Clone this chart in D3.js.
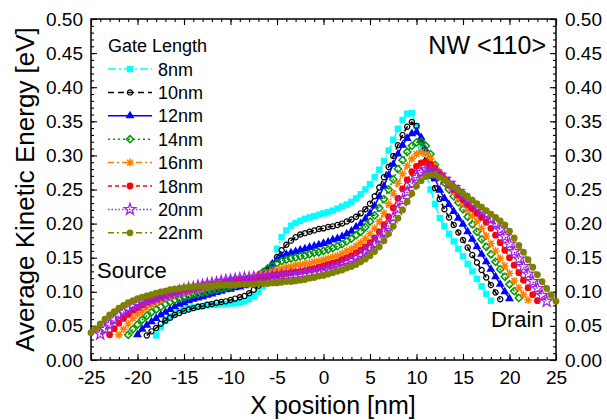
<!DOCTYPE html>
<html>
<head>
<meta charset="utf-8">
<script src="https://cdn.jsdelivr.net/npm/d3@7"></script>
<style>
  body { margin: 0; background: #fff; }
  svg { display: block; }
  text { font-family: "Liberation Sans", Arial, sans-serif; fill: #000; }
</style>
</head>
<body>
<svg id="chart" width="607" height="420"></svg>
<script>
// Gate lengths (nm) and the half span of each simulated wire (nm)
const gateLengths = [8, 10, 12, 14, 16, 18, 20, 22];
const halfSpans   = [18, 19, 20, 21, 22, 23, 24, 25];
const sampleStep  = 0.5; // nm between samples along the wire

const xTickValues = [-25, -20, -15, -10, -5, 0, 5, 10, 15, 20, 25];
const yTickValues = [0.00, 0.05, 0.10, 0.15, 0.20, 0.25, 0.30, 0.35, 0.40, 0.45, 0.50];

// Average kinetic energy [eV], sampled from -halfSpan to +halfSpan
const ke8nm = [
  0.036,0.048,0.057,0.063,0.068,0.072,0.074,0.076,0.077,0.078,
  0.079,0.080,0.081,0.081,0.082,0.082,0.083,0.083,0.084,0.086,
  0.089,0.094,0.100,0.108,0.120,0.140,0.163,0.180,0.190,0.197,
  0.201,0.204,0.207,0.209,0.211,0.213,0.215,0.217,0.219,0.222,
  0.225,0.228,0.232,0.237,0.243,0.250,0.258,0.268,0.279,0.292,
  0.307,0.323,0.339,0.352,0.361,0.362,0.343,0.310,0.275,0.250,
  0.229,0.208,0.196,0.185,0.174,0.163,0.152,0.141,0.130,0.119,
  0.108,0.097,0.087];
const ke10nm = [
  0.036,0.042,0.047,0.053,0.058,0.062,0.066,0.069,0.072,0.074,
  0.076,0.078,0.079,0.081,0.082,0.084,0.085,0.086,0.088,0.090,
  0.092,0.094,0.098,0.103,0.109,0.117,0.127,0.139,0.151,0.161,
  0.169,0.175,0.180,0.184,0.186,0.188,0.190,0.192,0.193,0.195,
  0.196,0.198,0.200,0.203,0.206,0.210,0.215,0.221,0.229,0.240,
  0.253,0.268,0.283,0.299,0.315,0.330,0.342,0.349,0.343,0.320,
  0.292,0.270,0.252,0.236,0.221,0.209,0.198,0.187,0.176,0.165,
  0.154,0.143,0.132,0.121,0.110,0.099,0.089];
const ke12nm = [
  0.037,0.045,0.051,0.056,0.061,0.066,0.070,0.074,0.078,0.082,
  0.084,0.087,0.089,0.091,0.093,0.095,0.097,0.099,0.101,0.103,
  0.104,0.106,0.107,0.109,0.111,0.114,0.119,0.126,0.134,0.141,
  0.147,0.152,0.155,0.157,0.159,0.161,0.163,0.165,0.167,0.169,
  0.171,0.173,0.176,0.178,0.181,0.185,0.189,0.195,0.200,0.207,
  0.215,0.226,0.240,0.255,0.271,0.287,0.302,0.315,0.325,0.332,
  0.334,0.326,0.307,0.286,0.266,0.249,0.237,0.228,0.218,0.208,
  0.199,0.188,0.177,0.166,0.155,0.144,0.133,0.122,0.111,0.100,
  0.090];
const ke14nm = [
  0.037,0.045,0.052,0.059,0.065,0.070,0.074,0.078,0.082,0.085,
  0.088,0.090,0.092,0.094,0.096,0.097,0.099,0.100,0.102,0.103,
  0.105,0.106,0.108,0.110,0.112,0.114,0.117,0.120,0.124,0.129,
  0.134,0.138,0.142,0.145,0.147,0.149,0.150,0.152,0.153,0.155,
  0.157,0.158,0.160,0.162,0.164,0.167,0.170,0.174,0.178,0.183,
  0.188,0.195,0.203,0.212,0.223,0.236,0.250,0.265,0.280,0.293,
  0.305,0.314,0.319,0.320,0.314,0.302,0.286,0.272,0.260,0.250,
  0.240,0.231,0.221,0.210,0.199,0.188,0.177,0.166,0.155,0.144,
  0.133,0.122,0.111,0.101,0.091];
const ke16nm = [
  0.037,0.045,0.053,0.061,0.067,0.072,0.077,0.081,0.085,0.088,
  0.091,0.093,0.096,0.098,0.100,0.101,0.103,0.104,0.106,0.107,
  0.108,0.110,0.111,0.112,0.114,0.115,0.117,0.118,0.120,0.122,
  0.124,0.126,0.128,0.130,0.132,0.134,0.136,0.137,0.139,0.140,
  0.141,0.142,0.144,0.145,0.147,0.149,0.151,0.153,0.156,0.160,
  0.163,0.167,0.172,0.178,0.185,0.193,0.203,0.215,0.229,0.244,
  0.259,0.273,0.285,0.295,0.302,0.305,0.302,0.295,0.285,0.274,
  0.264,0.255,0.246,0.237,0.229,0.220,0.211,0.203,0.193,0.182,
  0.171,0.160,0.149,0.138,0.127,0.116,0.106,0.096,0.088];
const ke18nm = [
  0.037,0.046,0.054,0.061,0.067,0.073,0.077,0.081,0.085,0.088,
  0.091,0.093,0.096,0.098,0.100,0.101,0.103,0.104,0.105,0.107,
  0.108,0.109,0.110,0.111,0.112,0.114,0.115,0.116,0.117,0.118,
  0.119,0.120,0.121,0.122,0.123,0.124,0.125,0.126,0.127,0.128,
  0.129,0.130,0.131,0.133,0.134,0.136,0.138,0.140,0.142,0.144,
  0.147,0.150,0.153,0.157,0.161,0.166,0.172,0.179,0.188,0.198,
  0.210,0.223,0.237,0.251,0.264,0.276,0.284,0.289,0.290,0.287,
  0.281,0.273,0.265,0.257,0.250,0.242,0.235,0.228,0.222,0.215,
  0.209,0.202,0.193,0.183,0.172,0.161,0.150,0.139,0.128,0.117,
  0.106,0.096,0.087];
const ke20nm = [
  0.038,0.045,0.052,0.059,0.065,0.070,0.074,0.078,0.081,0.084,
  0.087,0.089,0.091,0.093,0.095,0.097,0.099,0.101,0.103,0.105,
  0.106,0.108,0.109,0.111,0.112,0.113,0.115,0.116,0.117,0.118,
  0.119,0.120,0.120,0.121,0.121,0.122,0.122,0.123,0.123,0.124,
  0.124,0.125,0.125,0.126,0.127,0.128,0.129,0.130,0.131,0.133,
  0.135,0.137,0.139,0.142,0.145,0.149,0.153,0.158,0.163,0.170,
  0.178,0.187,0.197,0.209,0.221,0.234,0.246,0.258,0.268,0.275,
  0.279,0.279,0.276,0.271,0.265,0.259,0.253,0.247,0.241,0.235,
  0.229,0.224,0.218,0.213,0.207,0.200,0.191,0.181,0.170,0.159,
  0.148,0.137,0.126,0.115,0.105,0.095,0.086];
const ke22nm = [
  0.040,0.046,0.053,0.060,0.066,0.071,0.076,0.080,0.084,0.087,
  0.090,0.092,0.094,0.096,0.098,0.100,0.101,0.103,0.104,0.105,
  0.106,0.107,0.107,0.108,0.108,0.109,0.109,0.110,0.110,0.110,
  0.110,0.110,0.111,0.111,0.111,0.111,0.112,0.112,0.112,0.113,
  0.113,0.114,0.115,0.115,0.116,0.117,0.118,0.120,0.121,0.123,
  0.124,0.126,0.128,0.130,0.132,0.135,0.137,0.140,0.144,0.148,
  0.153,0.159,0.166,0.175,0.185,0.196,0.208,0.220,0.232,0.244,
  0.255,0.263,0.269,0.271,0.271,0.268,0.264,0.259,0.254,0.249,
  0.244,0.239,0.234,0.229,0.224,0.219,0.214,0.209,0.204,0.198,
  0.189,0.179,0.168,0.158,0.147,0.136,0.125,0.115,0.105,0.095,
  0.086];

const seriesValues = [ke8nm, ke10nm, ke12nm, ke14nm, ke16nm, ke18nm, ke20nm, ke22nm];

// Drawing style for each gate length
const styles = [
  { color: "#00ffff", dash: "8,3,2,3", marker: "square" },
  { color: "#000000", dash: "6,4",     marker: "openCircle" },
  { color: "#0000ff", dash: null,      marker: "triangle" },
  { color: "#009900", dash: "2,3",     marker: "openDiamond" },
  { color: "#ff8000", dash: "6,3,2,3", marker: "asterisk" },
  { color: "#ff0000", dash: "4,3",     marker: "dot" },
  { color: "#a020e0", dash: "1.5,2",   marker: "openStar" },
  { color: "#808000", dash: "6,3,2,3", marker: "dot" }
];

const svg = d3.select("#chart");
const x = d3.scaleLinear().domain([-25, 25]).range([91, 556]);
const y = d3.scaleLinear().domain([0, 0.5]).range([360, 19]);

const series = gateLengths.map((g, i) => ({
  label: g + "nm",
  style: styles[i],
  points: seriesValues[i].map((v, k) => ({ x: -halfSpans[i] + k * sampleStep, y: v }))
}));

function drawMarker(sel, kind, color) {
  switch (kind) {
    case "square":
      sel.append("rect").attr("x", -3.2).attr("y", -3.2).attr("width", 6.4).attr("height", 6.4)
        .attr("fill", color);
      break;
    case "openCircle":
      sel.append("circle").attr("r", 2.6).attr("fill", "none").attr("stroke", color).attr("stroke-width", 1.2);
      break;
    case "triangle":
      sel.append("path").attr("d", d3.symbol(d3.symbolTriangle, 34)()).attr("fill", color);
      break;
    case "openDiamond":
      sel.append("path").attr("d", "M0,-3.6L3.6,0L0,3.6L-3.6,0Z").attr("fill", "none")
        .attr("stroke", color).attr("stroke-width", 1.5);
      break;
    case "asterisk":
      sel.append("path").attr("d", "M-4,0L4,0M0,-4L0,4M-2.9,-2.9L2.9,2.9M-2.9,2.9L2.9,-2.9")
        .attr("fill", "none").attr("stroke", color).attr("stroke-width", 1.4);
      break;
    case "dot":
      sel.append("circle").attr("r", 3.4).attr("fill", color);
      break;
    case "openStar":
      sel.append("path").attr("d", d3.symbol(d3.symbolStar, 42)()).attr("fill", "none")
        .attr("stroke", color).attr("stroke-width", 1.2);
      break;
  }
}

// Axes: ticks point inward on all four sides
const xMinor = d3.range(-25, 26, 1);
const yMinor = d3.range(0, 51, 1).map(d => d / 100);
const fmtY = d3.format(".2f");
const tickFont = "19px";

function styleAxis(g) {
  g.select(".domain").remove();
  g.selectAll(".tick line").attr("stroke", "#000").attr("stroke-width", 1.1);
  g.selectAll("text").style("font-size", tickFont).attr("font-family", null);
}

// minor ticks
svg.append("g").attr("transform", `translate(0,${y(0)})`)
  .call(d3.axisBottom(x).tickValues(xMinor).tickSize(-3).tickFormat("")).call(styleAxis);
svg.append("g").attr("transform", `translate(0,${y(0.5)})`)
  .call(d3.axisTop(x).tickValues(xMinor).tickSize(-3).tickFormat("")).call(styleAxis);
svg.append("g").attr("transform", `translate(${x(-25)},0)`)
  .call(d3.axisLeft(y).tickValues(yMinor).tickSize(-3).tickFormat("")).call(styleAxis);
svg.append("g").attr("transform", `translate(${x(25)},0)`)
  .call(d3.axisRight(y).tickValues(yMinor).tickSize(-3).tickFormat("")).call(styleAxis);

// major ticks and labels
svg.append("g").attr("transform", `translate(0,${y(0)})`)
  .call(d3.axisBottom(x).tickValues(xTickValues).tickSize(-6).tickPadding(11).tickFormat(d => String(d)))
  .call(styleAxis);
svg.append("g").attr("transform", `translate(0,${y(0.5)})`)
  .call(d3.axisTop(x).tickValues(xTickValues).tickSize(-6).tickFormat(""))
  .call(styleAxis);
svg.append("g").attr("transform", `translate(${x(-25)},0)`)
  .call(d3.axisLeft(y).tickValues(yTickValues).tickSize(-6).tickPadding(8).tickFormat(fmtY))
  .call(styleAxis);
svg.append("g").attr("transform", `translate(${x(25)},0)`)
  .call(d3.axisRight(y).tickValues(yTickValues).tickSize(-6).tickPadding(9).tickFormat(fmtY))
  .call(styleAxis);

// frame
svg.append("rect")
  .attr("x", x(-25)).attr("y", y(0.5))
  .attr("width", x(25) - x(-25)).attr("height", y(0) - y(0.5))
  .attr("fill", "none").attr("stroke", "#000").attr("stroke-width", 1.5);

// series: connecting line, then markers
const line = d3.line().x(d => x(d.x)).y(d => y(d.y));
series.forEach(s => {
  const g = svg.append("g").attr("class", "series");
  g.append("path").datum(s.points).attr("d", line)
    .attr("fill", "none").attr("stroke", s.style.color).attr("stroke-width", 1.5)
    .attr("stroke-dasharray", s.style.dash);
  g.selectAll("g.pt").data(s.points).join("g").attr("class", "pt")
    .attr("transform", d => `translate(${x(d.x)},${y(d.y)})`)
    .each(function () { drawMarker(d3.select(this), s.style.marker, s.style.color); });
});

// legend
const legend = svg.append("g");
legend.append("text").attr("x", 108).attr("y", 52).style("font-size", "18px").text("Gate Length");
series.forEach((s, i) => {
  const ry = 69 + i * 23.4;
  const row = legend.append("g").attr("transform", `translate(0,${ry})`);
  row.append("line").attr("x1", 108).attr("x2", 152).attr("y1", 0).attr("y2", 0)
    .attr("stroke", s.style.color).attr("stroke-width", 1.5).attr("stroke-dasharray", s.style.dash);
  const m = row.append("g").attr("transform", "translate(130,0)");
  drawMarker(m, s.style.marker, s.style.color);
  row.append("text").attr("x", 158).attr("y", 6.5).style("font-size", "18px").text(s.label);
});

// annotations
svg.append("text").attr("x", 546).attr("y", 54).attr("text-anchor", "end").style("font-size", "25px").text("NW <110>");
svg.append("text").attr("x", 97).attr("y", 278).style("font-size", "22px").text("Source");
svg.append("text").attr("x", 491).attr("y", 327).style("font-size", "22px").text("Drain");

// axis titles
svg.append("text").attr("x", 333).attr("y", 414).attr("text-anchor", "middle").style("font-size", "25px")
  .text("X position [nm]");
svg.append("text").attr("transform", `translate(34,${(y(0) + y(0.5)) / 2}) rotate(-90)`)
  .attr("text-anchor", "middle").style("font-size", "26px").text("Average Kinetic Energy [eV]");
</script>
</body>
</html>
